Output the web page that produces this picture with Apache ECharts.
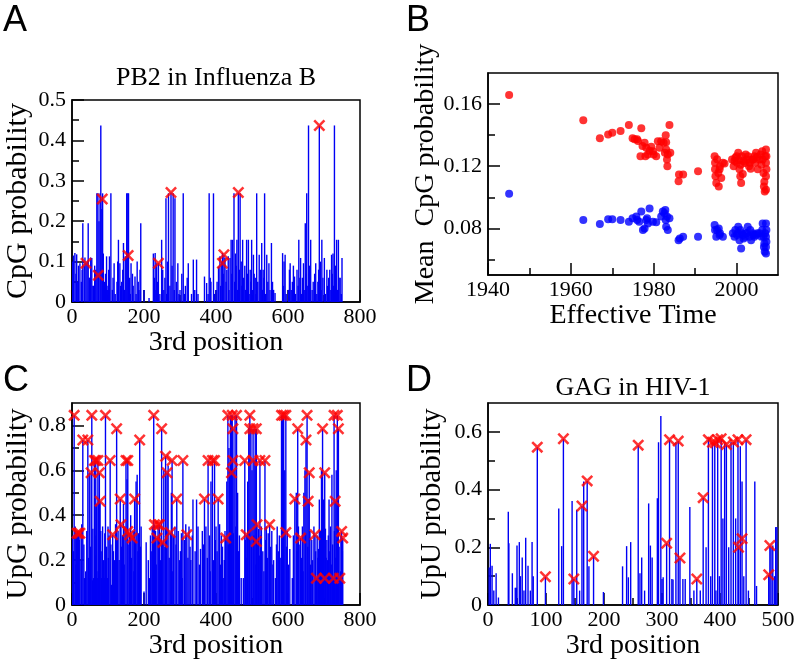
<!DOCTYPE html>
<html><head><meta charset="utf-8">
<script src="https://cdn.jsdelivr.net/npm/echarts@6/dist/echarts.min.js"></script>
<style>html,body{margin:0;padding:0;background:#fff}#c{width:796px;height:663px}</style>
</head><body><div id="c"></div>
<script>
// ---------- Panel A: PB2 in Influenza B (CpG probability vs 3rd position) ----------
const aSpikes = [[2,0.1],[4,0.115],[8,0.121],[11,0.07],[13,0.118],[16,0.05],[18,0.09],[22,0.096],[26,0.05],[28,0.08],[30,0.195],[34,0.09],[36,0.11],[39,0.096],[42,0.1],[45,0.195],[48,0.06],[50,0.06],[52,0.11],[55,0.109],[58,0.04],[60,0.04],[63,0.09],[66,0.08],[69,0.269],[72,0.269],[73,0.066],[75,0.2],[78,0.269],[80,0.437],[83,0.23],[84,0.255],[85,0.269],[87,0.12],[90,0.05],[93,0.07],[96,0.113],[98,0.03],[100,0.04],[102,0.08],[104,0.113],[108,0.269],[112,0.03],[114,0.06],[117,0.096],[120,0.02],[125,0.05],[127,0.1],[129,0.154],[133,0.096],[135,0.04],[138,0.05],[141,0.08],[143,0.146],[146,0.03],[148,0.113],[152,0.269],[155,0.269],[156,0.115],[157,0.269],[160,0.06],[162,0.02],[164,0.096],[168,0.07],[170,0.04],[175,0.063],[178,0.02],[181,0.1],[184,0.05],[186,0.03],[189,0.08],[191,0.195],[200,0.03],[214,0.01],[226,0.12],[229,0.06],[231,0.121],[233,0.03],[235,0.096],[238,0.05],[240,0.096],[244,0.02],[249,0.154],[252,0.08],[255,0.03],[258,0.06],[261,0.257],[263,0.02],[265,0.1],[268,0.269],[272,0.04],[275,0.271],[278,0.09],[281,0.269],[284,0.03],[286,0.257],[290,0.05],[294,0.096],[297,0.02],[300,0.03],[305,0.07],[309,0.269],[312,0.02],[315,0.04],[320,0.06],[323,0.096],[332,0.02],[337,0.105],[341,0.03],[346,0.105],[350,0.02],[368,0.063],[374,0.047],[378,0.02],[381,0.269],[384,0.06],[386,0.05],[393,0.269],[396,0.02],[400,0.03],[403,0.05],[407,0.088],[411,0.113],[413,0.04],[416,0.1],[418,0.121],[420,0.07],[422,0.117],[425,0.109],[428,0.05],[430,0.08],[434,0.113],[436,0.03],[439,0.109],[442,0.154],[444,0.07],[446,0.154],[450,0.269],[452,0.05],[454,0.12],[456,0.09],[458,0.154],[460,0.03],[462,0.271],[465,0.08],[467,0.269],[470,0.1],[472,0.04],[474,0.154],[477,0.06],[480,0.09],[482,0.03],[485,0.154],[488,0.07],[490,0.154],[492,0.02],[495,0.08],[497,0.05],[499,0.154],[502,0.03],[504,0.117],[506,0.07],[509,0.06],[511,0.02],[513,0.269],[516,0.05],[520,0.117],[523,0.08],[527,0.146],[529,0.03],[531,0.08],[533,0.06],[535,0.269],[538,0.02],[541,0.117],[544,0.05],[547,0.096],[550,0.03],[554,0.146],[557,0.05],[560,0.03],[564,0.022],[585,0.121],[587,0.04],[589,0.1],[592,0.117],[595,0.02],[601,0.03],[604,0.08],[606,0.096],[609,0.03],[612,0.05],[615,0.09],[618,0.063],[621,0.02],[625,0.08],[628,0.04],[630,0.154],[633,0.06],[635,0.109],[638,0.02],[640,0.06],[643,0.096],[645,0.03],[648,0.195],[650,0.07],[652,0.269],[655,0.04],[657,0.437],[660,0.09],[663,0.154],[667,0.03],[670,0.05],[674,0.07],[677,0.096],[680,0.02],[683,0.05],[685,0.08],[687,0.437],[690,0.1],[692,0.03],[694,0.154],[697,0.06],[701,0.109],[704,0.02],[708,0.08],[710,0.04],[713,0.06],[716,0.08],[719,0.03],[721,0.117],[723,0.07],[725,0.12],[727,0.04],[729,0.437],[732,0.09],[735,0.154],[737,0.03],[740,0.154],[742,0.06],[745,0.06],[748,0.02],[750,0.109]];
const aCrosses = [[39,0.096],[73,0.066],[84,0.255],[156,0.115],[240,0.096],[275,0.271],[418,0.096],[422,0.117],[462,0.271],[687,0.437]];
const aXTicks = [0,200,400,600,800], aXMinor = [100,300,500,700];
const aYTicks = [0,0.1,0.2,0.3,0.4,0.5], aYMinor = [0.05,0.15,0.25,0.35,0.45];

// ---------- Panel B: Mean CpG probability vs effective time ----------
const bRed = [[1945.1,0.1658],[1963.0,0.1496],[1967.0,0.138],[1969.0,0.1405],[1970.0,0.1416],[1972.0,0.1427],[1974.0,0.1466],[1974.9,0.138],[1975.4,0.1373],[1976.0,0.1373],[1976.2,0.1362],[1977.0,0.1444],[1976.8,0.1265],[1977.3,0.133],[1977.8,0.1351],[1978.0,0.1265],[1978.2,0.1319],[1978.6,0.1276],[1979.0,0.13],[1979.4,0.1325],[1979.8,0.1297],[1980.0,0.1276],[1980.6,0.1265],[1981.0,0.136],[1981.4,0.1319],[1981.8,0.136],[1982.4,0.1351],[1982.7,0.1286],[1982.9,0.1399],[1983.0,0.1308],[1983.0,0.1355],[1983.2,0.1243],[1983.3,0.12],[1983.4,0.1276],[1983.8,0.1466],[1984.0,0.1286],[1986.0,0.1103],[1986.1,0.1146],[1987.1,0.1146],[1990.7,0.1168],[1994.7,0.1265],[1994.8,0.1222],[1994.8,0.118],[1994.9,0.1135],[1995.1,0.1092],[1995.3,0.1245],[1995.6,0.1157],[1995.7,0.107],[1995.9,0.118],[1996.0,0.12],[1996.3,0.1125],[1996.7,0.1222],[1997.1,0.1217],[1998.9,0.1243],[1999.3,0.12],[1999.5,0.1233],[1999.7,0.1254],[2000.0,0.1265],[2000.1,0.1222],[2000.4,0.1286],[2000.6,0.124],[2000.7,0.118],[2000.9,0.1135],[2001.0,0.121],[2001.1,0.1092],[2001.3,0.1265],[2001.5,0.115],[2001.7,0.1233],[2002.0,0.122],[2002.2,0.1276],[2002.5,0.1243],[2002.8,0.1265],[2003.0,0.12],[2003.2,0.1222],[2003.4,0.1183],[2003.8,0.1243],[2004.0,0.1243],[2004.3,0.1265],[2004.5,0.1222],[2004.7,0.1286],[2005.0,0.126],[2005.1,0.118],[2005.5,0.1243],[2005.8,0.1276],[2006.0,0.121],[2006.2,0.1297],[2006.3,0.1243],[2006.5,0.1157],[2006.6,0.107],[2006.7,0.11],[2006.8,0.1038],[2006.9,0.1265],[2007.1,0.1308],[2007.1,0.1222],[2007.1,0.1135],[2007.1,0.1049],[2007.2,0.118],[2007.2,0.1265]];
const bBlue = [[1945.1,0.1023],[1963.0,0.0854],[1967.0,0.0828],[1969.0,0.0858],[1970.0,0.0858],[1972.0,0.0854],[1974.0,0.0843],[1974.9,0.0865],[1975.8,0.0876],[1976.0,0.0854],[1976.5,0.0843],[1977.0,0.0908],[1977.4,0.0789],[1977.8,0.08],[1978.2,0.0854],[1978.4,0.0865],[1978.6,0.0832],[1979.0,0.0928],[1979.8,0.0843],[1980.6,0.0839],[1981.8,0.0876],[1982.2,0.0908],[1982.6,0.0897],[1982.8,0.0918],[1982.9,0.0854],[1983.0,0.0811],[1983.2,0.0876],[1983.4,0.0789],[1983.8,0.0865],[1986.0,0.0724],[1986.3,0.0735],[1987.1,0.0746],[1990.7,0.0746],[1994.7,0.0822],[1994.8,0.0789],[1995.1,0.0746],[1995.3,0.0789],[1995.7,0.08],[1995.9,0.0757],[1996.0,0.0768],[1996.7,0.0746],[1999.1,0.0768],[1999.5,0.0746],[1999.7,0.0789],[2000.1,0.0757],[2000.3,0.0768],[2000.4,0.0811],[2000.7,0.0724],[2000.9,0.0789],[2001.1,0.067],[2001.3,0.0768],[2001.5,0.0757],[2001.7,0.0735],[2002.0,0.0746],[2002.2,0.0768],[2002.5,0.0768],[2002.7,0.0811],[2003.1,0.0746],[2003.3,0.0789],[2003.5,0.0724],[2003.9,0.0768],[2004.0,0.0757],[2004.3,0.0746],[2004.7,0.0757],[2005.0,0.0768],[2005.5,0.0768],[2006.0,0.0746],[2006.2,0.0789],[2006.3,0.0832],[2006.5,0.0746],[2006.6,0.0681],[2006.7,0.0703],[2006.8,0.0649],[2006.9,0.0768],[2007.1,0.0832],[2007.1,0.0746],[2007.1,0.0681],[2007.1,0.0638],[2007.2,0.0789],[2007.2,0.0714]];
const bXTicks = [1940,1960,1980,2000], bXMinor = [1950,1970,1990];
const bYTicks = [0.08,0.12,0.16], bYMinor = [0.06,0.10,0.14];

// ---------- Panel C: UpG probability vs 3rd position ----------
const cSpikes = [[2,0.31],[4,0.24],[6,0.845],[9,0.35],[11,0.18],[12,0.32],[15,0.33],[18,0.32],[20,0.29],[22,0.32],[25,0.2],[27,0.36],[30,0.735],[33,0.27],[35,0.12],[38,0.15],[41,0.33],[44,0.735],[46,0.21],[48,0.59],[50,0.12],[51,0.26],[53,0.589],[55,0.845],[57,0.11],[58,0.34],[60,0.12],[62,0.644],[64,0.31],[65,0.22],[66,0.644],[68,0.45],[69,0.15],[70,0.12],[72,0.644],[74,0.47],[76,0.589],[77,0.29],[78,0.462],[80,0.33],[82,0.12],[83,0.24],[84,0.11],[85,0.35],[87,0.12],[88,0.2],[90,0.12],[91,0.32],[93,0.845],[95,0.18],[96,0.26],[98,0.12],[100,0.35],[101,0.21],[103,0.31],[106,0.644],[108,0.27],[110,0.09],[113,0.313],[115,0.24],[118,0.2],[121,0.36],[124,0.785],[126,0.29],[128,0.33],[131,0.2],[134,0.472],[136,0.358],[138,0.26],[140,0.31],[143,0.45],[145,0.18],[147,0.35],[150,0.644],[153,0.56],[155,0.644],[158,0.27],[160,0.313],[163,0.4],[165,0.21],[167,0.298],[170,0.33],[172,0.15],[174,0.472],[176,0.29],[178,0.55],[181,0.58],[183,0.24],[185,0.32],[188,0.735],[190,0.26],[192,0.35],[200,0.06],[206,0.28],[212,0.2],[215,0.12],[218,0.31],[220,0.24],[223,0.35],[225,0.27],[227,0.845],[229,0.358],[232,0.33],[234,0.18],[236,0.298],[239,0.358],[241,0.29],[243,0.358],[246,0.2],[248,0.32],[249,0.785],[252,0.279],[255,0.6],[258,0.26],[260,0.663],[262,0.34],[264,0.589],[267,0.62],[270,0.21],[273,0.323],[276,0.5],[278,0.644],[280,0.15],[282,0.31],[286,0.35],[289,0.27],[291,0.472],[295,0.33],[299,0.2],[301,0.24],[304,0.32],[306,0.12],[308,0.644],[312,0.29],[316,0.36],[319,0.313],[322,0.21],[325,0.35],[328,0.26],[330,0.2],[334,0.31],[336,0.47],[342,0.24],[346,0.47],[350,0.35],[354,0.18],[357,0.25],[362,0.33],[365,0.27],[368,0.472],[372,0.35],[376,0.21],[378,0.644],[382,0.31],[384,0.15],[386,0.55],[390,0.644],[393,0.2],[396,0.644],[398,0.29],[400,0.35],[403,0.24],[406,0.472],[410,0.36],[412,0.18],[415,0.31],[418,0.26],[420,0.12],[423,0.2],[425,0.33],[427,0.298],[430,0.55],[433,0.845],[434,0.27],[436,0.7],[438,0.6],[440,0.845],[443,0.845],[445,0.845],[447,0.785],[448,0.32],[450,0.6],[453,0.845],[455,0.35],[457,0.845],[460,0.5],[462,0.24],[465,0.31],[470,0.12],[476,0.12],[480,0.644],[482,0.29],[484,0.313],[486,0.21],[488,0.55],[491,0.79],[493,0.33],[494,0.845],[497,0.785],[499,0.26],[500,0.6],[503,0.785],[505,0.31],[506,0.644],[509,0.785],[511,0.18],[512,0.785],[514,0.358],[516,0.27],[518,0.34],[520,0.22],[522,0.644],[524,0.31],[526,0.35],[530,0.24],[533,0.15],[536,0.644],[538,0.29],[540,0.35],[543,0.21],[545,0.32],[549,0.358],[552,0.26],[555,0.33],[558,0.18],[560,0.2],[565,0.12],[568,0.27],[570,0.35],[573,0.24],[576,0.31],[580,0.21],[582,0.845],[585,0.845],[587,0.29],[588,0.845],[591,0.6],[594,0.845],[596,0.26],[598,0.33],[601,0.18],[605,0.25],[612,0.12],[615,0.31],[619,0.472],[623,0.5],[625,0.24],[627,0.785],[629,0.35],[631,0.27],[635,0.298],[638,0.21],[640,0.35],[642,0.15],[644,0.5],[647,0.6],[649,0.32],[650,0.735],[653,0.845],[655,0.26],[656,0.472],[659,0.589],[661,0.33],[663,0.18],[666,0.29],[668,0.2],[672,0.35],[675,0.313],[677,0.24],[679,0.119],[681,0.31],[683,0.21],[685,0.25],[687,0.47],[690,0.33],[692,0.15],[693,0.6],[696,0.785],[698,0.27],[699,0.47],[702,0.589],[704,0.34],[706,0.21],[708,0.29],[710,0.2],[712,0.31],[714,0.47],[716,0.24],[718,0.35],[720,0.18],[722,0.58],[724,0.27],[726,0.119],[728,0.845],[729,0.33],[731,0.462],[733,0.21],[734,0.6],[736,0.29],[737,0.845],[740,0.785],[742,0.26],[744,0.119],[746,0.15],[747,0.31],[749,0.328],[751,0.24],[752,0.298]];
const cCrosses = [[6,0.845],[14,0.32],[18,0.32],[22,0.32],[30,0.735],[44,0.735],[53,0.589],[55,0.845],[62,0.644],[66,0.644],[72,0.644],[76,0.589],[78,0.462],[93,0.845],[106,0.644],[113,0.313],[124,0.785],[134,0.472],[136,0.358],[150,0.644],[155,0.644],[155,0.328],[160,0.313],[167,0.298],[174,0.472],[188,0.735],[227,0.845],[229,0.358],[236,0.298],[239,0.358],[243,0.358],[249,0.785],[252,0.279],[260,0.663],[264,0.589],[273,0.323],[278,0.644],[291,0.472],[308,0.644],[319,0.313],[368,0.472],[378,0.644],[390,0.644],[396,0.644],[406,0.472],[427,0.298],[433,0.845],[445,0.845],[457,0.845],[447,0.785],[443,0.589],[447,0.644],[480,0.644],[484,0.313],[494,0.845],[494,0.785],[503,0.785],[512,0.785],[503,0.644],[512,0.283],[514,0.358],[522,0.644],[536,0.644],[549,0.358],[582,0.845],[588,0.845],[594,0.845],[594,0.323],[619,0.472],[627,0.785],[635,0.298],[650,0.735],[653,0.845],[656,0.462],[659,0.589],[675,0.313],[679,0.119],[696,0.785],[702,0.589],[702,0.119],[726,0.119],[728,0.845],[737,0.845],[731,0.462],[740,0.785],[744,0.119],[749,0.328],[752,0.298]];
const cXTicks = [0,200,400,600,800], cXMinor = [100,300,500,700];
const cYTicks = [0,0.2,0.4,0.6,0.8], cYMinor = [0.1,0.3,0.5,0.7];

// ---------- Panel D: GAG in HIV-1 (UpU probability vs 3rd position) ----------
const dSpikes = [[2,0.13],[4,0.212],[7,0.136],[10,0.05],[14,0.11],[18,0.026],[35,0.323],[36,0.214],[42,0.11],[47,0.06],[49,0.06],[50,0.206],[54,0.218],[56,0.1],[59,0.165],[62,0.05],[65,0.233],[69,0.136],[73,0.05],[76,0.218],[78,0.1],[85,0.547],[99,0.098],[122,0.334],[127,0.204],[130,0.576],[145,0.36],[148,0.09],[153,0.33],[158,0.05],[162,0.343],[165,0.428],[171,0.43],[174,0.134],[182,0.169],[199,0.045],[232,0.134],[239,0.204],[242,0.096],[246,0.218],[259,0.554],[262,0.11],[265,0.165],[270,0.05],[277,0.352],[280,0.206],[283,0.165],[292,0.37],[294,0.564],[298,0.655],[300,0.09],[302,0.096],[308,0.214],[313,0.573],[317,0.09],[319,0.088],[324,0.564],[328,0.568],[331,0.163],[336,0.09],[340,0.09],[348,0.34],[355,0.05],[360,0.09],[366,0.05],[371,0.372],[376,0.2],[380,0.573],[384,0.1],[387,0.564],[391,0.562],[393,0.05],[396,0.573],[399,0.1],[402,0.576],[405,0.3],[408,0.56],[411,0.556],[415,0.2],[419,0.565],[423,0.565],[427,0.3],[431,0.573],[432,0.2],[435,0.55],[438,0.428],[441,0.1],[445,0.573],[449,0.05],[460,0.428],[463,0.066],[484,0.105],[486,0.206],[488,0.2],[491,0.206],[494,0.1],[496,0.27],[498,0.27]];
const dCrosses = [[85,0.547],[99,0.098],[130,0.576],[148,0.09],[162,0.343],[171,0.43],[182,0.169],[259,0.554],[308,0.214],[313,0.573],[328,0.568],[331,0.163],[360,0.09],[371,0.372],[380,0.573],[387,0.564],[392,0.562],[396,0.573],[402,0.576],[411,0.556],[423,0.565],[431,0.573],[432,0.2],[438,0.23],[445,0.573],[484,0.105],[486,0.206]];
const dXTicks = [0,100,200,300,400,500], dXMinor = [50,150,250,350,450];
const dYTicks = [0,0.2,0.4,0.6], dYMinor = [0.1,0.3,0.5];

// ---------- rendering ----------
const SERIF = '"Liberation Serif", "Times New Roman", serif';
const SANS = '"Liberation Sans", Arial, sans-serif';
const chart = echarts.init(document.getElementById('c'), null, {renderer: 'canvas'});
const XCROSS = 'path://M0,1.5L1.5,0L5,3.5L8.5,0L10,1.5L6.5,5L10,8.5L8.5,10L5,6.5L1.5,10L0,8.5L3.5,5Z';

const grids = [
  {left: 72, top: 100, width: 288, height: 202},
  {left: 488, top: 73, width: 290, height: 202},
  {left: 72, top: 403, width: 288, height: 202},
  {left: 488, top: 403, width: 290, height: 202}
].map(g => Object.assign(g, {show: true, borderColor: '#000', borderWidth: 1.5, backgroundColor: 'transparent', outerBoundsMode: 'none'}));

function axes(dim, gi, min, max, majors, minors, name, nameGap, nameSize) {
  const pos = dim === 'x' ? 'bottom' : 'left';
  const major = {
    type: 'value', gridIndex: gi, position: pos, min, max, name, nameLocation: 'middle', nameGap,
    nameTextStyle: {fontFamily: SERIF, fontSize: nameSize, color: '#000'},
    axisLine: {show: true, onZero: false, lineStyle: {color: '#000', width: 1.5}},
    axisTick: {show: true, inside: true, length: 12, customValues: majors, lineStyle: {color: '#000', width: 1.5}},
    axisLabel: {show: true, customValues: majors, fontFamily: SERIF, fontSize: 22, color: '#000',
      margin: dim === 'x' ? 4 : 6, formatter: v => String(v), hideOverlap: false},
    splitLine: {show: false}
  };
  const minor = {
    type: 'value', gridIndex: gi, position: pos, min, max,
    axisLine: {show: false, onZero: false},
    axisTick: {show: true, inside: true, length: 7, customValues: minors, lineStyle: {color: '#000', width: 1.5}},
    axisLabel: {show: false}, splitLine: {show: false}
  };
  return [major, minor];
}

const xAxis = [].concat(
  axes('x', 0, 0, 800, aXTicks, aXMinor, '3rd position', 26, 28),
  axes('x', 1, 1940, 2010, bXTicks, bXMinor, 'Effective Time', 24, 28),
  axes('x', 2, 0, 800, cXTicks, cXMinor, '3rd position', 26, 28),
  axes('x', 3, 0, 500, dXTicks, dXMinor, '3rd position', 26, 28)
);
const yAxis = [].concat(
  axes('y', 0, 0, 0.5, aYTicks, aYMinor, 'CpG probability', 39, 30),
  axes('y', 1, 0.05, 0.18, bYTicks, bYMinor, 'Mean  CpG probability', 40, 28),
  axes('y', 2, 0, 0.9, cYTicks, cYMinor, 'UpG probability', 39, 29),
  axes('y', 3, 0, 0.7, dYTicks, dYMinor, 'UpU probability', 41, 29)
);

function spikes(gi, data) {
  return {type: 'bar', xAxisIndex: gi * 2, yAxisIndex: gi * 2, data, barWidth: 1.4,
    itemStyle: {color: '#0000f5'}, silent: true, z: 2};
}
function crosses(gi, data) {
  return {type: 'scatter', xAxisIndex: gi * 2, yAxisIndex: gi * 2, data, symbol: XCROSS, symbolSize: 12,
    itemStyle: {color: '#ff0000'}, silent: true, z: 5};
}
function dots(gi, data, color) {
  return {type: 'scatter', xAxisIndex: gi * 2, yAxisIndex: gi * 2, data, symbol: 'circle', symbolSize: 8,
    itemStyle: {color}, silent: true, z: 5};
}

const series = [
  spikes(0, aSpikes), crosses(0, aCrosses),
  dots(1, bRed, '#ff0000'), dots(1, bBlue, '#0000ff'),
  spikes(2, cSpikes), crosses(2, cCrosses),
  spikes(3, dSpikes), crosses(3, dCrosses)
];

function txt(text, x, y, font, align) {
  return {type: 'text', x, y, silent: true,
    style: {text, font, fill: '#000', align: align || 'left', verticalAlign: 'top'}};
}
const graphic = [
  txt('A', 3, 3, '36px ' + SANS), txt('B', 406, 3, '36px ' + SANS),
  txt('C', 3, 363, '36px ' + SANS), txt('D', 406, 363, '36px ' + SANS),
  txt('PB2 in Influenza B', 216, 65, '26px ' + SERIF, 'center'),
  txt('GAG in HIV-1', 633, 375, '26px ' + SERIF, 'center')
];

chart.setOption({animation: false, backgroundColor: '#fff', grid: grids, xAxis, yAxis, series, graphic});
</script></body></html>
